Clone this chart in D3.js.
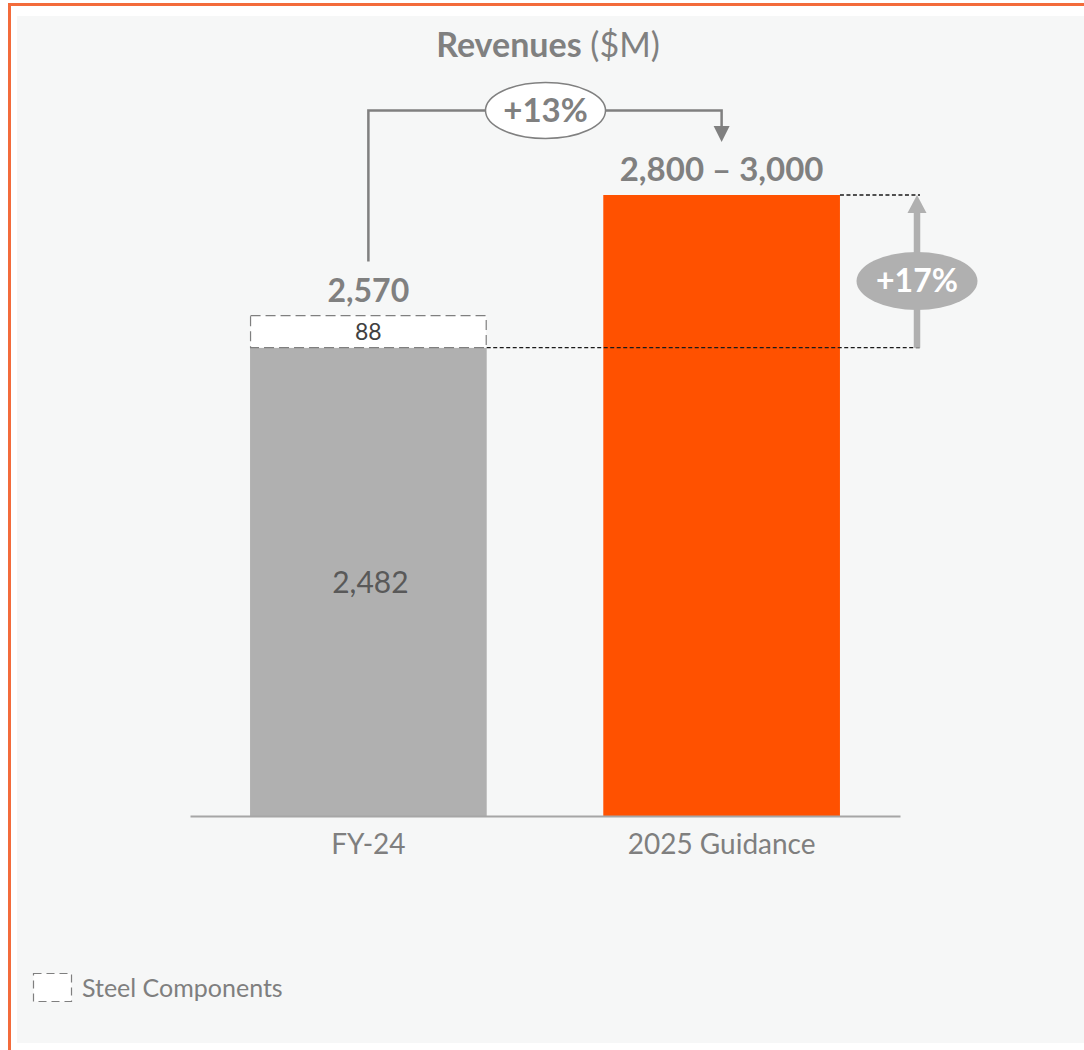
<!DOCTYPE html>
<html>
<head>
<meta charset="utf-8">
<script src="https://cdn.jsdelivr.net/npm/d3@7/dist/d3.min.js"></script>
<style>
  html, body { margin: 0; padding: 0; background: #ffffff; }
  svg { display: block; font-family: Lato, "Open Sans", sans-serif; }
</style>
</head>
<body>
<svg id="chart" width="1084" height="1050"></svg>
<script>
// Revenue bridge: FY-24 actuals vs 2025 guidance ($M)
const categories = ["FY-24", "2025 Guidance"];
const baseValues = [2482, null];        // FY-24 core revenue
const steelValues = [88, null];         // Steel Components add-on
const guidanceRange = [2800, 3000];     // 2025 guidance range
const guidanceMid = 2900;               // bar drawn at range midpoint
const totalLabels = ["2,570", "2,800 – 3,000"];
const growthLabels = ["+13%", "+17%"];
const axisFloor = 1200;                 // value axis is truncated

const GRAY = "#b0b0b0", ORANGE = "#ff5100", TXT = "#808080";

const svg = d3.select("#chart");

// panel frame
svg.append("rect").attr("x", 17).attr("y", 16).attr("width", 1067).attr("height", 1027).attr("fill", "#f6f7f7");
svg.append("path").attr("d", "M9.5,1050 V4.5 H1084").attr("fill", "none")
  .attr("stroke", "#f36b3b").attr("stroke-width", 3);

const x = d3.scaleBand().domain(categories).range([190, 900]).paddingInner(0.33).paddingOuter(0.17);
const y = d3.scaleLinear().domain([axisFloor, guidanceMid]).range([816, 195]);

// title
const title = svg.append("text").attr("x", 548).attr("y", 57).attr("text-anchor", "middle")
  .attr("font-size", 34).attr("fill", TXT);
title.append("tspan").attr("font-weight", "bold").text("Revenues");
title.append("tspan").text(" ($M)");

// bars
const x0 = x(categories[0]), x1 = x(categories[1]), bw = x.bandwidth();
const c0 = x0 + bw / 2, c1 = x1 + bw / 2;
const fy = baseValues[0], fyTotal = fy + steelValues[0];

svg.append("rect").attr("x", x0).attr("y", y(fy)).attr("width", bw).attr("height", y(axisFloor) - y(fy)).attr("fill", GRAY);
svg.append("rect").attr("x", x0 + 0.5).attr("y", y(fyTotal)).attr("width", bw - 1).attr("height", y(fy) - y(fyTotal))
  .attr("fill", "#ffffff").attr("stroke", "#7f7f7f").attr("stroke-width", 1.2).attr("stroke-dasharray", "10,5");
svg.append("rect").attr("x", x1).attr("y", y(guidanceMid)).attr("width", bw).attr("height", y(axisFloor) - y(guidanceMid)).attr("fill", ORANGE);

// axis
const axis = svg.append("g").attr("transform", `translate(0,${y(axisFloor)})`)
  .call(d3.axisBottom(x).tickSize(0).tickPadding(18));
axis.select(".domain").attr("stroke", "#a6a6a6").attr("stroke-width", 2);
axis.selectAll("text").attr("font-size", 28).attr("fill", "#7f7f7f").attr("font-family", "Lato, sans-serif");

// value labels
svg.append("text").attr("x", c0 + 2).attr("y", (y(fy) + y(axisFloor)) / 2 + 11).attr("text-anchor", "middle")
  .attr("font-size", 30).attr("fill", "#595959").text(d3.format(",")(fy));
svg.append("text").attr("x", c0).attr("y", (y(fy) + y(fyTotal)) / 2 + 8).attr("text-anchor", "middle")
  .attr("font-size", 23).attr("fill", "#404040").text(steelValues[0]);
svg.append("text").attr("x", c0).attr("y", y(fyTotal) - 14).attr("text-anchor", "middle")
  .attr("font-size", 32).attr("font-weight", "bold").attr("fill", TXT).text(totalLabels[0]);
svg.append("text").attr("x", c1).attr("y", y(guidanceMid) - 14).attr("text-anchor", "middle")
  .attr("font-size", 33).attr("font-weight", "bold").attr("fill", TXT).text(totalLabels[1]);

// dashed reference lines for the +17% step
const refX = 920;
svg.append("line").attr("x1", x0 + bw).attr("x2", refX).attr("y1", y(fy)).attr("y2", y(fy))
  .attr("stroke", "#1a1a1a").attr("stroke-width", 1.3).attr("stroke-dasharray", "4,2.5");
svg.append("line").attr("x1", x1 + bw).attr("x2", refX).attr("y1", y(guidanceMid)).attr("y2", y(guidanceMid))
  .attr("stroke", "#1a1a1a").attr("stroke-width", 1.3).attr("stroke-dasharray", "4,2.5");

// +17% arrow
const ax = 917;
svg.append("line").attr("x1", ax).attr("x2", ax).attr("y1", y(fy)).attr("y2", y(guidanceMid) + 16)
  .attr("stroke", GRAY).attr("stroke-width", 6.5);
svg.append("path").attr("d", `M${ax},${y(guidanceMid)} L${ax - 9.5},${y(guidanceMid) + 18} L${ax + 9.5},${y(guidanceMid) + 18} Z`).attr("fill", GRAY);
svg.append("ellipse").attr("cx", ax).attr("cy", 281).attr("rx", 60.5).attr("ry", 29).attr("fill", GRAY);
svg.append("text").attr("x", ax).attr("y", 292).attr("text-anchor", "middle")
  .attr("font-size", 32).attr("font-weight", "bold").attr("fill", "#ffffff").text(growthLabels[1]);

// +13% connector
const topY = 110.5;
svg.append("path").attr("d", `M${c0},${y(fyTotal) - 54} V${topY} H${c1} V${128}`)
  .attr("fill", "none").attr("stroke", "#808080").attr("stroke-width", 2.5);
svg.append("path").attr("d", `M${c1},142 L${c1 - 8},126 L${c1 + 8},126 Z`).attr("fill", "#808080");
svg.append("ellipse").attr("cx", 545.5).attr("cy", topY).attr("rx", 60).attr("ry", 28)
  .attr("fill", "#ffffff").attr("stroke", "#808080").attr("stroke-width", 1.5);
svg.append("text").attr("x", 545.5).attr("y", topY + 11).attr("text-anchor", "middle")
  .attr("font-size", 33).attr("font-weight", "bold").attr("fill", TXT).text(growthLabels[0]);

// legend
svg.append("rect").attr("x", 33.5).attr("y", 973.5).attr("width", 38).attr("height", 28)
  .attr("fill", "#ffffff").attr("stroke", "#7f7f7f").attr("stroke-width", 1.2).attr("stroke-dasharray", "8,5");
svg.append("text").attr("x", 82).attr("y", 997).attr("font-size", 25).attr("fill", "#7f7f7f").text("Steel Components");
</script>
</body>
</html>
